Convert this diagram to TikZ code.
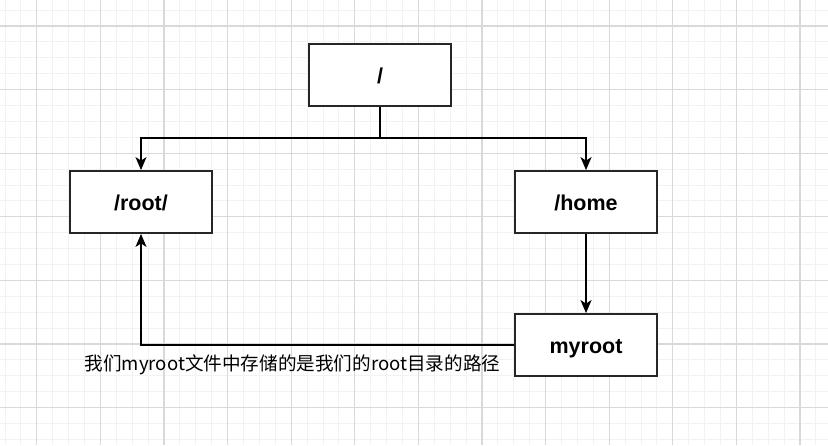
\documentclass[tikz,border=0pt]{standalone}
\usepackage{fontspec}
\setmainfont{Liberation Sans}
\newfontfamily\cjk{Noto Sans CJK SC}
\usetikzlibrary{arrows.meta}
\tikzset{
  box/.style={draw=black!85, line width=1.8pt, fill=white, minimum width=142pt, minimum height=62pt, inner sep=0pt, text height=17pt, text depth=0pt, font=\fontsize{21.5}{26}\selectfont\bfseries},
  conn/.style={line width=1.8pt, black},
  arr/.style={conn, -{Stealth[length=13pt,width=11pt,inset=3.5pt]}},
  minorgrid/.style={line width=1pt, black!5},
  majorgrid/.style={line width=1.2pt, black!15}
}
\begin{document}
\begin{tikzpicture}[x=1pt,y=-1pt]
\useasboundingbox (0,0) rectangle (828,445);
\fill[white] (0,0) rectangle (828,445);
% grid
\foreach \i in {0,...,52} {
  \pgfmathsetmacro{\xx}{5+\i*15.9}
  \draw[minorgrid] (\xx,0) -- (\xx,445);
}
\foreach \i in {0,...,28} {
  \pgfmathsetmacro{\yy}{10.1+\i*15.9}
  \draw[minorgrid] (0,\yy) -- (828,\yy);
}
\foreach \i in {0,...,12} {
  \pgfmathsetmacro{\xx}{36.8+\i*63.6}
  \draw[majorgrid] (\xx,0) -- (\xx,445);
}
\foreach \i in {0,...,6} {
  \pgfmathsetmacro{\yy}{26+\i*63.6}
  \draw[majorgrid] (0,\yy) -- (828,\yy);
}
% nodes
\node[box] (top) at (380,75) {/};
\node[box] (root) at (141,202) {/root/};
\node[box] (home) at (586,202) {/home};
\node[box] (myroot) at (586,345) {myroot};
\coordinate (j) at (380,138);
% connectors
\draw[conn] (top) -- (j);
\draw[arr] (j) -| (root);
\draw[arr] (j) -| (home);
\draw[arr] (home) -- (myroot);
\draw[arr] (myroot) -| (root);
\node[font=\cjk\fontsize{18.6}{22}\selectfont, inner sep=0pt, anchor=base] (lbl) at (292.5,370) {我们myroot文件中存储的是我们的root目录的路径};
\end{tikzpicture}
\end{document}
